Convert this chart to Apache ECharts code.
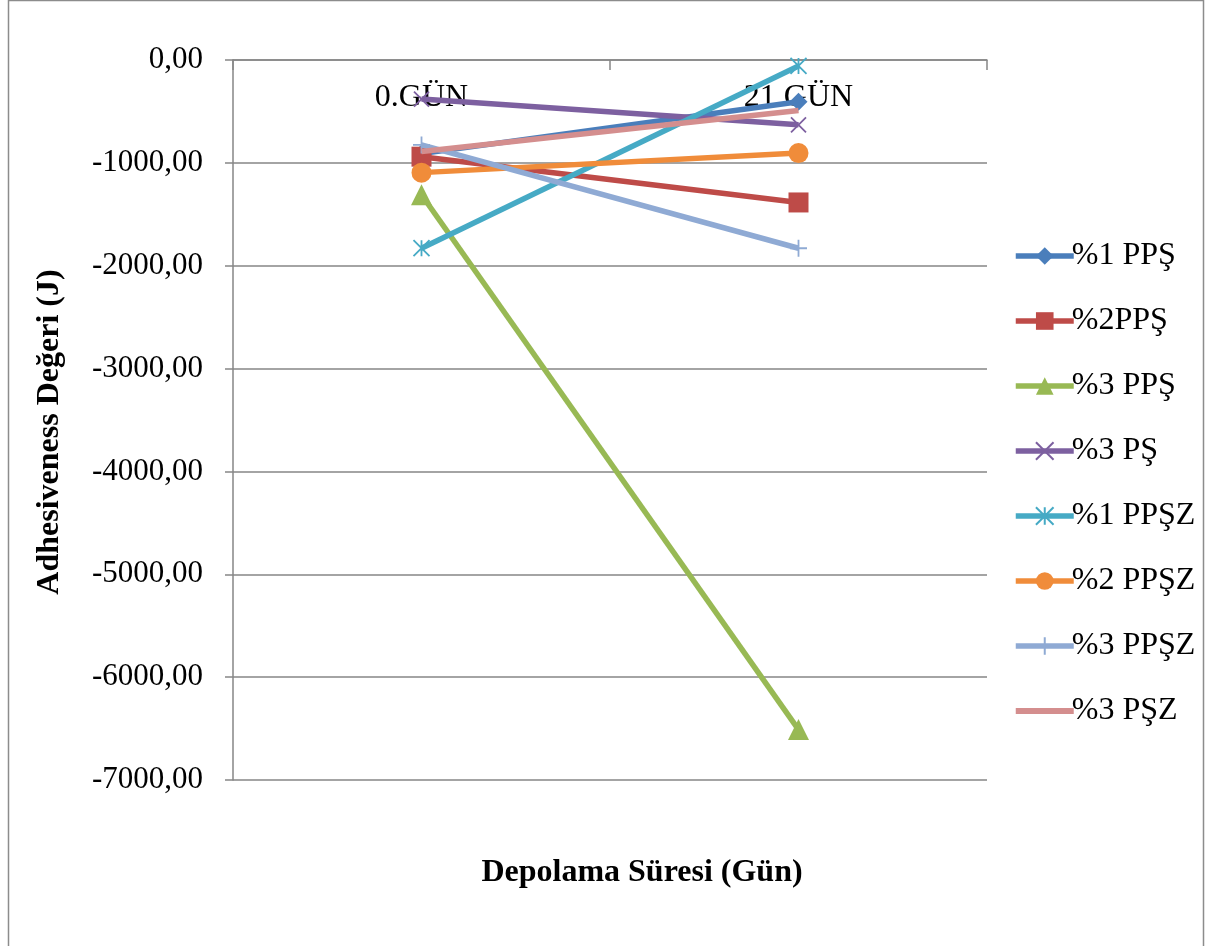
<!DOCTYPE html>
<html>
<head>
<meta charset="utf-8">
<script src="https://cdn.jsdelivr.net/npm/echarts@6/dist/echarts.min.js"></script>
<style>
  html, body { margin: 0; padding: 0; background: #fff; }
  #chart { width: 1205px; height: 946px; }
</style>
</head>
<body>
<div id="chart"></div>
<script>
// Storage days on the category axis
const categories = ['0.GÜN', '21.GÜN'];

// Adhesiveness values (J) per formulation
const seriesNames = ['%1 PPŞ', '%2PPŞ', '%3 PPŞ', '%3 PŞ', '%1 PPŞZ', '%2 PPŞZ', '%3 PPŞZ', '%3 PŞZ'];
const pps1  = [-910, -405];
const pps2  = [-940, -1385];
const pps3  = [-1310, -6510];
const ps3   = [-380, -630];
const ppsz1 = [-1830, -58];
const ppsz2 = [-1095, -905];
const ppsz3 = [-826, -1830];
const psz3  = [-890, -490];

// Value axis range
const yMin = -7000;
const yMax = 0;
const yStep = 1000;

const FONT = '"Liberation Serif", "Times New Roman", serif';

const xPath = 'path://M0,0L10,10M10,0L0,10';
const starPath = 'path://M0,0L10,10M10,0L0,10M5,0L5,10';
const plusPath = 'path://M5,0L5,10M0,5L10,5';
const barPath = 'path://M0,0L58,0L58,6L0,6Z';

const styles = [
  { color: '#4A7EBB', symbol: 'diamond', size: 18 },
  { color: '#BE4B48', symbol: 'rect', size: 20 },
  { color: '#98B954', symbol: 'triangle', size: 21 },
  { color: '#7D60A0', symbol: xPath, size: 15, stroke: true },
  { color: '#46AAC5', symbol: starPath, size: 16, stroke: true },
  { color: '#F08C3A', symbol: 'circle', size: 20 },
  { color: '#8FAAD4', symbol: plusPath, size: 17, stroke: true },
  { color: '#D48E8E', symbol: 'none', size: 0 }
];

const values = [pps1, pps2, pps3, ps3, ppsz1, ppsz2, ppsz3, psz3];

const series = values.map((d, i) => {
  const s = styles[i];
  return {
    name: seriesNames[i],
    type: 'line',
    data: d,
    symbol: s.symbol,
    symbolSize: s.size,
    showSymbol: s.symbol !== 'none',
    lineStyle: { color: s.color, width: 5.5 },
    itemStyle: s.stroke
      ? { color: 'rgba(0,0,0,0)', borderColor: s.color, borderWidth: 1.8 }
      : { color: s.color, borderWidth: 0 },
    emphasis: { disabled: true },
    animation: false,
    z: 2 + i
  };
});

const legendData = seriesNames.map((n, i) =>
  styles[i].symbol === 'none'
    ? { name: n, icon: barPath, itemStyle: { color: styles[i].color } }
    : { name: n }
);

const chart = echarts.init(document.getElementById('chart'), null, { renderer: 'canvas' });

chart.setOption({
  backgroundColor: '#ffffff',
  animation: false,
  textStyle: { fontFamily: FONT },
  grid: { left: 233, top: 60, right: 218, bottom: 166, containLabel: false },
  xAxis: {
    type: 'category',
    position: 'top',
    data: categories,
    boundaryGap: true,
    axisLine: { show: true, onZero: false, lineStyle: { color: '#868686', width: 1.5 } },
    axisTick: { show: true, inside: true, length: 10, alignWithLabel: false, lineStyle: { color: '#868686', width: 1.5 } },
    axisLabel: {
      show: true, inside: true, margin: 22,
      fontFamily: FONT, fontSize: 32, color: '#000'
    },
    splitLine: { show: false }
  },
  yAxis: {
    type: 'value',
    min: yMin,
    max: yMax,
    interval: yStep,
    axisLine: { show: true, lineStyle: { color: '#868686', width: 1.5 } },
    axisTick: { show: true, inside: false, length: 8, lineStyle: { color: '#868686', width: 1.5 } },
    axisLabel: {
      margin: 30,
      fontFamily: FONT, fontSize: 31, color: '#000',
      formatter: v => v.toFixed(2).replace('.', ',')
    },
    splitLine: { show: true, lineStyle: { color: '#868686', width: 1.5 } }
  },
  legend: {
    orient: 'vertical',
    left: 1008,
    top: 235,
    itemWidth: 58,
    itemHeight: 22,
    itemGap: 33,
    lineStyle: { width: 5.5 },
    textStyle: { fontFamily: FONT, fontSize: 32, color: '#000', padding: [0, 0, 0, -7] },
    data: legendData
  },
  graphic: [
    {
      type: 'rect',
      shape: { x: 8.5, y: 0.5, width: 1195, height: 960 },
      style: { fill: 'none', stroke: '#8c8c8c', lineWidth: 1.5 },
      silent: true
    },
    {
      type: 'text',
      x: 642, y: 873,
      style: {
        text: 'Depolama Süresi (Gün)',
        font: 'bold 32px ' + FONT,
        fill: '#000',
        align: 'center',
        verticalAlign: 'middle'
      }
    },
    {
      type: 'text',
      x: 50, y: 432,
      rotation: Math.PI / 2,
      style: {
        text: 'Adhesiveness Değeri (J)',
        font: 'bold 32px ' + FONT,
        fill: '#000',
        align: 'center',
        verticalAlign: 'middle'
      }
    }
  ],
  series: series
});
</script>
</body>
</html>
